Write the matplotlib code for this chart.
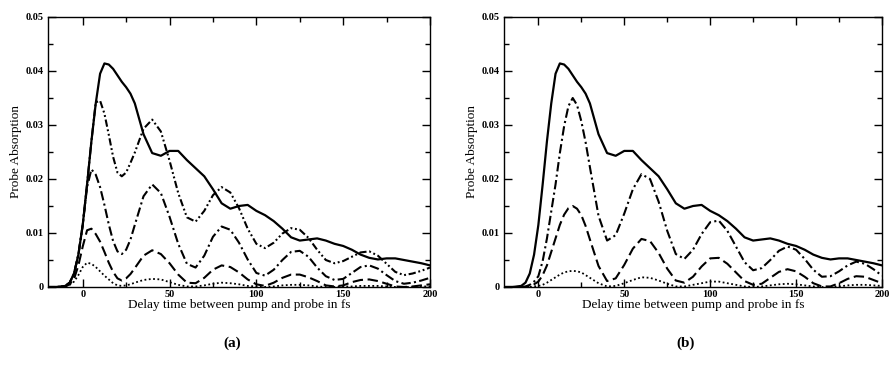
import matplotlib
matplotlib.use("Agg")
import matplotlib.pyplot as plt
from matplotlib.ticker import MultipleLocator, FixedLocator

# ---------------- data ----------------
delay_fs = [-20, -15, -10, -7.5, -5, -2.5, 0, 2.5, 5, 7.5, 10, 12.5, 15, 17.5, 20,
            22.5, 25, 27.5, 30, 35, 40, 45, 50, 55, 60, 65, 70, 75, 80, 85, 90, 95,
            100, 105, 110, 115, 120, 125, 130, 135, 140, 145, 150, 155, 160, 165,
            170, 175, 180, 185, 190, 195, 200]

total_signal = [0, 0, 0.0002, 0.0008, 0.0025, 0.006, 0.0115, 0.019, 0.027, 0.034, 0.0395,
                0.0414, 0.0412, 0.0404, 0.0392, 0.0380, 0.0370, 0.0358, 0.0340,
                0.0283, 0.0248, 0.0243, 0.0252, 0.0252, 0.0235, 0.0220, 0.0205, 0.0181,
                0.0155, 0.0145, 0.0150, 0.0152, 0.0141, 0.0133, 0.0122, 0.0108, 0.0092,
                0.0086, 0.0088, 0.0090, 0.0086, 0.0080, 0.0076, 0.0069, 0.0060, 0.0054,
                0.0051, 0.0053, 0.0053, 0.0050, 0.0047, 0.0044, 0.0040]

# panel (a) components
a_dashdotdot = [0, 0, 0.0002, 0.0008, 0.0025, 0.006, 0.0115, 0.019, 0.027, 0.0342, 0.0345,
                0.0321, 0.0282, 0.0241, 0.0212, 0.0205, 0.0212, 0.0230, 0.0249,
                0.0293, 0.0310, 0.0288, 0.0234, 0.0174, 0.0129, 0.0121, 0.0141, 0.0170,
                0.0185, 0.0175, 0.0146, 0.0108, 0.0080, 0.0072, 0.0082, 0.0099, 0.0109,
                0.0106, 0.0091, 0.0069, 0.0050, 0.0044, 0.0048, 0.0056, 0.0064, 0.0066,
                0.0058, 0.0043, 0.0028, 0.0022, 0.0025, 0.0030, 0.0036]
a_dashdot = [0, 0, 0.0002, 0.0008, 0.0025, 0.006, 0.0115, 0.0185, 0.0218, 0.0208, 0.0185,
             0.0152, 0.0116, 0.0085, 0.0066, 0.0061, 0.0069, 0.0088, 0.0115,
             0.0168, 0.0190, 0.0174, 0.0130, 0.0080, 0.0043, 0.0036, 0.0058, 0.0093,
             0.0112, 0.0106, 0.0082, 0.0051, 0.0026, 0.0021, 0.0032, 0.0050, 0.0065,
             0.0067, 0.0056, 0.0036, 0.0020, 0.0013, 0.0015, 0.0026, 0.0037, 0.0040,
             0.0034, 0.0022, 0.0011, 0.0006, 0.0008, 0.0012, 0.0017]
a_dashed = [0, 0, 0.0001, 0.0005, 0.0015, 0.0040, 0.0075, 0.0105, 0.0108, 0.0098, 0.0084,
            0.0065, 0.0045, 0.0028, 0.0016, 0.0012, 0.0016, 0.0024, 0.0035,
            0.0058, 0.0068, 0.0061, 0.0044, 0.0023, 0.0008, 0.0007, 0.0017, 0.0032,
            0.0040, 0.0037, 0.0027, 0.0014, 0.0005, 0.0002, 0.0008, 0.0017, 0.0023,
            0.0023, 0.0018, 0.0011, 0.0003, 0.0001, 0.0003, 0.0009, 0.0013, 0.0014,
            0.0011, 0.0006, 0.0001, 0.0, 0.0001, 0.0003, 0.0005]
a_dotted = [0, 0, 0.0001, 0.0004, 0.0010, 0.0022, 0.0037, 0.0045, 0.0043, 0.0037, 0.0029,
            0.0021, 0.0014, 0.0007, 0.0003, 0.0002, 0.0003, 0.0005, 0.0008,
            0.0013, 0.0015, 0.0014, 0.0009, 0.0004, 0.0001, 0.0001, 0.0003, 0.0006,
            0.0008, 0.0007, 0.0005, 0.0002, 0.0001, 0.0, 0.0001, 0.0003, 0.0004,
            0.0004, 0.0003, 0.0001, 0.0, 0.0, 0.0001, 0.0001, 0.0002, 0.0002,
            0.0002, 0.0001, 0.0, 0.0, 0.0, 0.0001, 0.0001]

# panel (b) components
b_dashdot = [0, 0, 0, 0.0001, 0.0004, 0.0010, 0.0020, 0.0048, 0.0090, 0.0140, 0.0190,
             0.0248, 0.0298, 0.0335, 0.0350, 0.0337, 0.0307, 0.0268, 0.0222,
             0.0132, 0.0086, 0.0096, 0.0136, 0.0181, 0.0209, 0.0200, 0.0158, 0.0104,
             0.0061, 0.0052, 0.0069, 0.0098, 0.0120, 0.0123, 0.0104, 0.0075, 0.0046,
             0.0031, 0.0035, 0.0050, 0.0067, 0.0075, 0.0069, 0.0052, 0.0032, 0.0019,
             0.0020, 0.0029, 0.0040, 0.0047, 0.0043, 0.0033, 0.0021]
b_dashed = [0, 0, 0, 0, 0.0002, 0.0005, 0.0010, 0.0022, 0.0040, 0.0065, 0.0090,
            0.0115, 0.0134, 0.0146, 0.0150, 0.0145, 0.0133, 0.0113, 0.0088,
            0.0039, 0.0011, 0.0016, 0.0041, 0.0071, 0.0089, 0.0085, 0.0063, 0.0034,
            0.0012, 0.0008, 0.0019, 0.0038, 0.0053, 0.0054, 0.0043, 0.0027, 0.0011,
            0.0004, 0.0006, 0.0017, 0.0028, 0.0033, 0.0029, 0.0019, 0.0007, 0.0001,
            0.0001, 0.0007, 0.0015, 0.0020, 0.0019, 0.0013, 0.0007]
b_dotted = [0, 0, 0, 0, 0, 0.0001, 0.0002, 0.0004, 0.0008, 0.0013, 0.0018,
            0.0023, 0.0027, 0.0029, 0.0030, 0.0029, 0.0027, 0.0022, 0.0017,
            0.0007, 0.0001, 0.0002, 0.0007, 0.0013, 0.0018, 0.0017, 0.0012, 0.0006,
            0.0001, 0.0001, 0.0004, 0.0007, 0.0010, 0.0010, 0.0007, 0.0004, 0.0001,
            0.0, 0.0001, 0.0003, 0.0005, 0.0006, 0.0005, 0.0003, 0.0001, 0.0,
            0.0, 0.0001, 0.0003, 0.0004, 0.0004, 0.0003, 0.0002]

x_ticks = [0, 50, 100, 150, 200]
x_ticklabels = ["0", "50", "100", "150", "200"]
y_ticks = [0, 0.01, 0.02, 0.03, 0.04, 0.05]
y_ticklabels = ["0", "0.01", "0.02", "0.03", "0.04", "0.05"]
panel_labels = ["(a)", "(b)"]
xlabel_text = "Delay time between pump and probe in fs"
ylabel_text = "Probe Absorption"

# ---------------- styles ----------------
plt.rcParams["font.family"] = ["Liberation Serif", "DejaVu Serif"]
LS_SOLID = "-"
LS_DDD = (0, (3.5, 1.3, 0.9, 1.3, 0.9, 1.3))
LS_DD = (0, (4.5, 1.6, 1.0, 1.6))
LS_DASH = (0, (5.0, 2.2))
LS_DOT = (0, (1.0, 1.4))

W, H = 889, 373
fig = plt.figure(figsize=(W / 100, H / 100), dpi=100)

def px_axes(left, right, top, bottom):
    return fig.add_axes([left / W, 1 - bottom / H, (right - left) / W, (bottom - top) / H])

ax_a = px_axes(48, 430, 17, 287)
ax_b = px_axes(504, 882, 17, 287)

ax_a.plot(delay_fs, total_signal, color="black", lw=1.6, ls=LS_SOLID)
ax_a.plot(delay_fs, a_dashdotdot, color="black", lw=1.5, ls=LS_DDD)
ax_a.plot(delay_fs, a_dashdot, color="black", lw=1.5, ls=LS_DD)
ax_a.plot(delay_fs, a_dashed, color="black", lw=1.5, ls=LS_DASH)
ax_a.plot(delay_fs, a_dotted, color="black", lw=1.3, ls=LS_DOT)

ax_b.plot(delay_fs, total_signal, color="black", lw=1.6, ls=LS_SOLID)
ax_b.plot(delay_fs, b_dashdot, color="black", lw=1.5, ls=LS_DD)
ax_b.plot(delay_fs, b_dashed, color="black", lw=1.5, ls=LS_DASH)
ax_b.plot(delay_fs, b_dotted, color="black", lw=1.3, ls=LS_DOT)

for ax, lab in zip([ax_a, ax_b], panel_labels):
    ax.set_xlim(-20, 200)
    ax.set_ylim(0, 0.05)
    ax.xaxis.set_major_locator(FixedLocator(x_ticks))
    ax.set_xticklabels(x_ticklabels)
    ax.xaxis.set_minor_locator(MultipleLocator(25))
    ax.yaxis.set_major_locator(FixedLocator(y_ticks))
    ax.set_yticklabels(y_ticklabels)
    ax.yaxis.set_minor_locator(MultipleLocator(0.005))
    ax.tick_params(which="both", direction="in", top=True, right=True, width=1.0)
    ax.tick_params(which="major", length=6)
    ax.tick_params(which="minor", length=3.5)
    ax.tick_params(axis="x", which="major", pad=2.5, labelsize=7.5)
    ax.tick_params(axis="y", which="major", pad=3, labelsize=7.5)
    for t in ax.get_xticklabels() + ax.get_yticklabels():
        t.set_fontweight("bold")
    for s in ax.spines.values():
        s.set_linewidth(1.0)
    ax.set_xlabel(xlabel_text, fontsize=9.5, labelpad=0)
    ax.set_ylabel(ylabel_text, fontsize=9.5, labelpad=3)
    pos = ax.get_position()
    fig.text(pos.x0 + pos.width / 2 - 0.008, 1 - 343 / H, lab, ha="center", va="center",
             fontsize=11, fontweight="bold")

fig.savefig("out.png", dpi=100)
